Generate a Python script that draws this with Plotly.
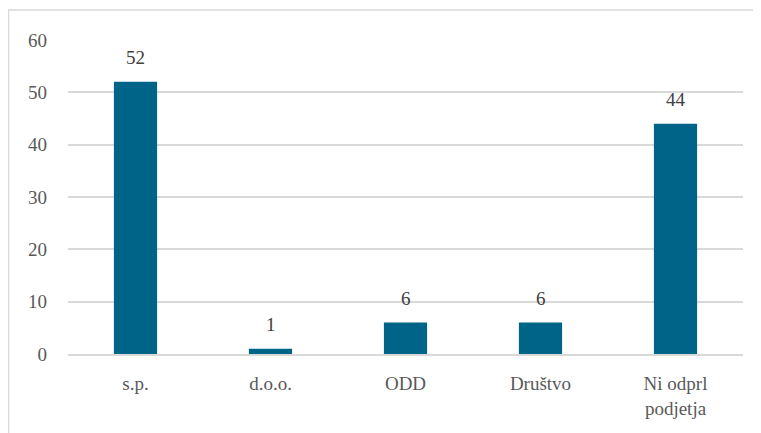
import plotly.graph_objects as go

categories = ["s.p.", "d.o.o.", "ODD", "Društvo", "Ni odprl<br>podjetja"]
values = [52, 1, 6, 6, 44]
y_ticks = [0, 10, 20, 30, 40, 50, 60]

# page has an 8px body margin; figure sized to fill the rest
W, H = 753, 425
L, R, T, B = 60, 18, 32, 79
pw, ph = W - L - R, H - T - B
FONT = "Liberation Serif, Times New Roman, serif"

fig = go.Figure(go.Bar(
    x=categories, y=values,
    marker=dict(color="#006488", line=dict(width=0)),
))

for c, v in zip(categories, values):
    fig.add_annotation(x=c, y=v, text=str(v), showarrow=False, yanchor="bottom",
                       yshift=12, font=dict(family=FONT, size=19, color="#404040"))

fx = lambda px: (px - L) / pw
fy = lambda py: (H - B - py) / ph

fig.update_layout(
    width=W, height=H,
    margin=dict(l=L, r=R, t=T, b=B),
    paper_bgcolor="white", plot_bgcolor="white",
    bargap=0.68, showlegend=False,
    font=dict(family=FONT, size=19, color="#595959"),
    xaxis=dict(showgrid=False, showline=True, linecolor="#d9d9d9", linewidth=2,
               ticks="", ticklabelstandoff=11, tickfont=dict(family=FONT, size=19, color="#595959")),
    yaxis=dict(range=[0, 60], tickvals=y_ticks, showgrid=True, gridcolor="#d9d9d9",
               gridwidth=1.5, zeroline=False, showline=False, ticks="",
               ticklabelstandoff=20, tickfont=dict(family=FONT, size=19, color="#595959")),
    shapes=[
        dict(type="line", xref="paper", yref="paper", x0=fx(0), x1=fx(W + 5),
             y0=fy(2), y1=fy(2), line=dict(color="#d9d9d9", width=1.5)),
        dict(type="line", xref="paper", yref="paper", x0=fx(0.5), x1=fx(0.5),
             y0=fy(2), y1=fy(H + 5), line=dict(color="#d9d9d9", width=1.5)),
    ],
)

fig.write_html("out.html")
